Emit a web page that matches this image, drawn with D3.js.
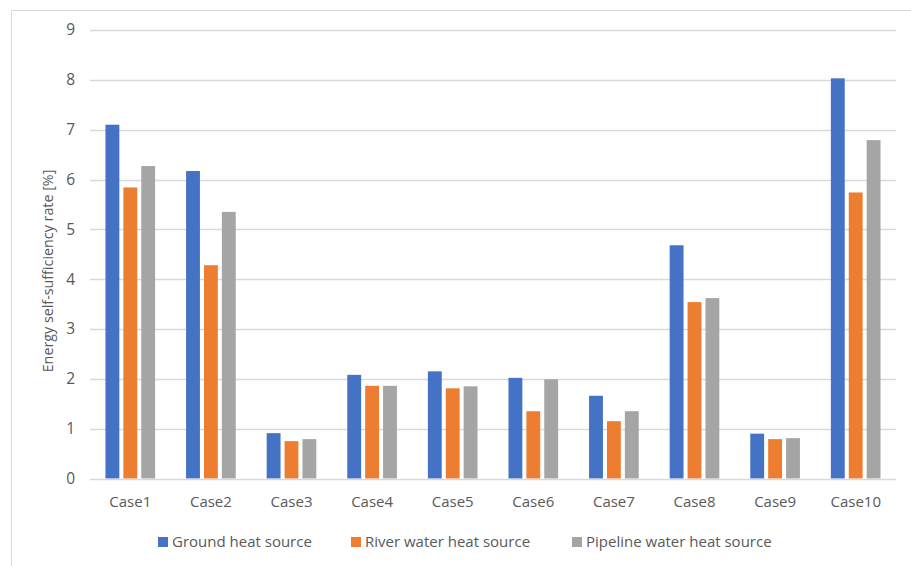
<!DOCTYPE html>
<html>
<head>
<meta charset="utf-8">
<script src="https://cdn.jsdelivr.net/npm/d3@7"></script>
<style>
  html, body { margin: 0; padding: 0; background: #fff; }
  svg { display: block; font-family: "Open Sans", "Noto Sans", sans-serif; }
</style>
</head>
<body>
<svg id="chart" width="911" height="566"></svg>
<script>
// Energy self-sufficiency rate by case and heat source
const categories = ["Case1", "Case2", "Case3", "Case4", "Case5", "Case6", "Case7", "Case8", "Case9", "Case10"];
const seriesNames = ["Ground heat source", "River water heat source", "Pipeline water heat source"];
const ground   = [7.10, 6.17, 0.91, 2.08, 2.15, 2.02, 1.66, 4.68, 0.90, 8.03];
const river    = [5.84, 4.28, 0.75, 1.86, 1.81, 1.35, 1.15, 3.54, 0.79, 5.74];
const pipeline = [6.27, 5.35, 0.79, 1.86, 1.85, 1.99, 1.35, 3.62, 0.81, 6.79];
const yTicks = [0, 1, 2, 3, 4, 5, 6, 7, 8, 9];
const colors = ["#4472C4", "#ED7D31", "#A5A5A5"];

const seriesValues = [ground, river, pipeline];
const svg = d3.select("#chart");
const textColor = "#595959";

// outer chart frame
svg.append("rect")
  .attr("x", 11.5).attr("y", 10.5)
  .attr("width", 920).attr("height", 580)
  .attr("fill", "none").attr("stroke", "#d9d9d9").attr("stroke-width", 1);

const plot = { left: 90, right: 896, top: 30, bottom: 478.5 };

const x = d3.scaleBand().domain(categories).range([plot.left, plot.right]).padding(0);
const y = d3.scaleLinear().domain([0, 9]).range([plot.bottom, plot.top]);

// bar geometry within each category band
const barW = x.bandwidth() * 0.172;
const barGap = x.bandwidth() * 0.05;
const groupW = barW * 3 + barGap * 2;

// gridlines
svg.append("g")
  .selectAll("line")
  .data(yTicks.filter(t => t > 0))
  .join("line")
  .attr("x1", plot.left).attr("x2", plot.right)
  .attr("y1", d => Math.round(y(d)) + 0.5).attr("y2", d => Math.round(y(d)) + 0.5)
  .attr("stroke", "#d9d9d9").attr("stroke-width", 1.3);

// y axis labels
const yAxis = svg.append("g")
  .attr("transform", `translate(${plot.left},0)`)
  .call(d3.axisLeft(y).tickValues(yTicks).tickSize(0).tickPadding(15).tickFormat(d3.format("d")));
yAxis.select(".domain").remove();
yAxis.selectAll("text")
  .attr("fill", textColor).attr("font-size", 15.5)
  .style("font-family", "'Open Sans', sans-serif");

// bars
const groups = svg.append("g").selectAll("g")
  .data(categories)
  .join("g")
  .attr("transform", d => `translate(${x(d) + (x.bandwidth() - groupW) / 2},0)`);

groups.selectAll("rect")
  .data((d, i) => seriesValues.map((vals, s) => ({ s, v: vals[i] })))
  .join("rect")
  .attr("x", d => d.s * (barW + barGap))
  .attr("y", d => y(d.v))
  .attr("width", barW)
  .attr("height", d => y(0) - y(d.v))
  .attr("fill", d => colors[d.s]);

// baseline
svg.append("line")
  .attr("x1", plot.left).attr("x2", plot.right)
  .attr("y1", Math.round(y(0)) + 0.5).attr("y2", Math.round(y(0)) + 0.5)
  .attr("stroke", "#d9d9d9").attr("stroke-width", 1.3);

// x axis labels
const xAxis = svg.append("g")
  .attr("transform", `translate(0,${plot.bottom})`)
  .call(d3.axisBottom(x).tickSize(0).tickPadding(18));
xAxis.select(".domain").remove();
xAxis.selectAll("text")
  .attr("fill", textColor).attr("font-size", 15)
  .style("font-family", "'Open Sans', sans-serif");

// y axis title
svg.append("text")
  .attr("transform", "translate(53,271) rotate(-90)")
  .attr("text-anchor", "middle")
  .attr("fill", textColor).attr("font-size", 14.3)
  .text("Energy self-sufficiency rate [%]");

// legend
const legendX = [158, 351, 572];
const legend = svg.append("g").selectAll("g")
  .data(seriesNames)
  .join("g")
  .attr("transform", (d, i) => `translate(${legendX[i]},542)`);
legend.append("rect")
  .attr("x", 0).attr("y", -5).attr("width", 10).attr("height", 10)
  .attr("fill", (d, i) => colors[i]);
legend.append("text")
  .attr("x", 14).attr("dy", "0.35em")
  .attr("fill", textColor).attr("font-size", 15)
  .text(d => d);
</script>
</body>
</html>
